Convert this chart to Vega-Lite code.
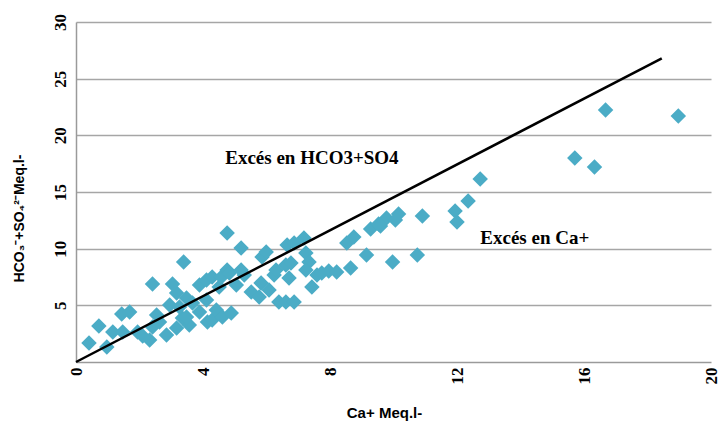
{
  "$schema": "https://vega.github.io/schema/vega-lite/v6.json",
  "width": 635,
  "height": 340,
  "autosize": {"type": "none"},
  "padding": {"left": 76, "top": 22, "right": 10, "bottom": 68},
  "background": "white",
  "config": {
    "view": {"stroke": null},
    "axis": {"grid": false, "ticks": false, "domainColor": "#9a9a9a", "domainWidth": 1.5}
  },
  "datasets": {
    "pts": [
      {"ca": 0.41, "hs": 1.68}, {"ca": 0.72, "hs": 3.18}, {"ca": 0.97, "hs": 1.32}, {"ca": 1.16, "hs": 2.65},
      {"ca": 1.44, "hs": 4.24}, {"ca": 1.69, "hs": 4.41}, {"ca": 1.47, "hs": 2.65}, {"ca": 1.94, "hs": 2.65},
      {"ca": 2.10, "hs": 2.29}, {"ca": 2.41, "hs": 3.09}, {"ca": 2.63, "hs": 3.53}, {"ca": 2.54, "hs": 4.15},
      {"ca": 2.32, "hs": 1.94}, {"ca": 2.85, "hs": 2.38}, {"ca": 3.17, "hs": 3.0}, {"ca": 2.95, "hs": 5.03},
      {"ca": 3.35, "hs": 3.88}, {"ca": 3.48, "hs": 5.65}, {"ca": 3.26, "hs": 4.85}, {"ca": 3.17, "hs": 6.09},
      {"ca": 3.04, "hs": 6.88}, {"ca": 2.41, "hs": 6.88}, {"ca": 3.39, "hs": 8.83}, {"ca": 3.57, "hs": 3.27},
      {"ca": 3.48, "hs": 3.97}, {"ca": 3.67, "hs": 5.21}, {"ca": 3.89, "hs": 6.80}, {"ca": 3.89, "hs": 4.41},
      {"ca": 4.11, "hs": 5.47}, {"ca": 4.14, "hs": 3.53}, {"ca": 4.29, "hs": 3.71}, {"ca": 4.11, "hs": 7.24},
      {"ca": 4.29, "hs": 7.50}, {"ca": 4.42, "hs": 4.59}, {"ca": 4.51, "hs": 6.62}, {"ca": 4.58, "hs": 7.50},
      {"ca": 4.76, "hs": 8.12}, {"ca": 4.83, "hs": 7.86}, {"ca": 4.61, "hs": 3.97}, {"ca": 4.89, "hs": 4.32},
      {"ca": 4.76, "hs": 11.39}, {"ca": 5.20, "hs": 10.06}, {"ca": 5.05, "hs": 6.80}, {"ca": 5.30, "hs": 7.68},
      {"ca": 5.20, "hs": 8.12}, {"ca": 5.52, "hs": 6.18}, {"ca": 5.77, "hs": 5.74}, {"ca": 5.83, "hs": 6.97},
      {"ca": 6.08, "hs": 6.35}, {"ca": 5.86, "hs": 9.27}, {"ca": 5.99, "hs": 9.71}, {"ca": 6.24, "hs": 7.68},
      {"ca": 6.30, "hs": 8.12}, {"ca": 6.39, "hs": 5.30}, {"ca": 6.61, "hs": 5.30}, {"ca": 6.87, "hs": 5.30},
      {"ca": 6.71, "hs": 7.41}, {"ca": 6.61, "hs": 8.56}, {"ca": 6.77, "hs": 8.74}, {"ca": 6.65, "hs": 10.33},
      {"ca": 6.87, "hs": 10.50}, {"ca": 7.18, "hs": 10.94}, {"ca": 7.24, "hs": 9.62}, {"ca": 7.34, "hs": 8.83},
      {"ca": 7.24, "hs": 8.12}, {"ca": 7.43, "hs": 6.62}, {"ca": 7.59, "hs": 7.68}, {"ca": 7.74, "hs": 7.86},
      {"ca": 7.96, "hs": 8.03}, {"ca": 8.21, "hs": 7.94}, {"ca": 8.65, "hs": 8.30}, {"ca": 8.53, "hs": 10.50},
      {"ca": 8.75, "hs": 11.03}, {"ca": 9.15, "hs": 9.44}, {"ca": 9.28, "hs": 11.74}, {"ca": 9.53, "hs": 12.18},
      {"ca": 9.78, "hs": 12.71}, {"ca": 9.97, "hs": 8.83}, {"ca": 10.16, "hs": 13.06}, {"ca": 9.59, "hs": 12.0},
      {"ca": 10.75, "hs": 9.44}, {"ca": 10.91, "hs": 12.89}, {"ca": 11.94, "hs": 13.33}, {"ca": 12.0, "hs": 12.36},
      {"ca": 12.35, "hs": 14.21}, {"ca": 12.73, "hs": 16.15}, {"ca": 15.71, "hs": 18.0}, {"ca": 16.33, "hs": 17.21},
      {"ca": 16.68, "hs": 22.24}, {"ca": 18.97, "hs": 21.71}, {"ca": 10.06, "hs": 12.53}
    ],
    "ref": [{"ca": 0, "hs": 0}, {"ca": 18.45, "hs": 26.8}],
    "notes": [
      {"ca": 7.43, "hs": 18.0, "label": "Excés en HCO3+SO4"},
      {"ca": 14.45, "hs": 10.94, "label": "Excés en Ca+"}
    ]
  },
  "layer": [
    {
      "data": {"name": "pts"},
      "mark": {"type": "point", "shape": "diamond", "filled": true, "size": 240, "color": "#4BACC6", "opacity": 1},
      "encoding": {
        "x": {
          "field": "ca", "type": "quantitative",
          "scale": {"domain": [0, 20], "nice": false, "zero": true},
          "axis": {
            "values": [0, 4, 8, 12, 16, 20],
            "labelAngle": -90,
            "labelFont": "Liberation Serif", "labelFontWeight": "bold", "labelFontSize": 17, "labelColor": "#000",
            "labelPadding": 5, "labelOverlap": false, "labelBound": false,
            "title": "Ca+  Meq.l-", "titleFont": "Liberation Sans", "titleFontWeight": "bold", "titleFontSize": 15,
            "titleColor": "#000", "titleX": 308, "titleY": 50, "titleBaseline": "middle", "titleAlign": "center"
          }
        },
        "y": {
          "field": "hs", "type": "quantitative",
          "scale": {"domain": [0, 30], "nice": false, "zero": true},
          "axis": {
            "values": [5, 10, 15, 20, 25, 30],
            "grid": true, "gridColor": "#a6a6a6", "gridWidth": 1.5,
            "labelAngle": -90,
            "labelFont": "Liberation Serif", "labelFontWeight": "bold", "labelFontSize": 17, "labelColor": "#000",
            "labelPadding": 7,
            "title": "HCO₃⁻+SO₄²⁻Meq.l-", "titleFont": "Liberation Sans", "titleFontWeight": "bold", "titleFontSize": 14,
            "titleColor": "#000", "titleX": -57, "titleY": 196, "titleBaseline": "middle", "titleAlign": "center", "titleAngle": -90
          }
        }
      }
    },
    {
      "data": {"name": "ref"},
      "mark": {"type": "line", "color": "#000", "strokeWidth": 2.5},
      "encoding": {
        "x": {"field": "ca", "type": "quantitative"},
        "y": {"field": "hs", "type": "quantitative"}
      }
    },
    {
      "data": {"name": "notes"},
      "mark": {"type": "text", "font": "Liberation Serif", "fontWeight": "bold", "fontSize": 19, "color": "#000", "align": "center", "baseline": "middle"},
      "encoding": {
        "x": {"field": "ca", "type": "quantitative"},
        "y": {"field": "hs", "type": "quantitative"},
        "text": {"field": "label"}
      }
    }
  ]
}
